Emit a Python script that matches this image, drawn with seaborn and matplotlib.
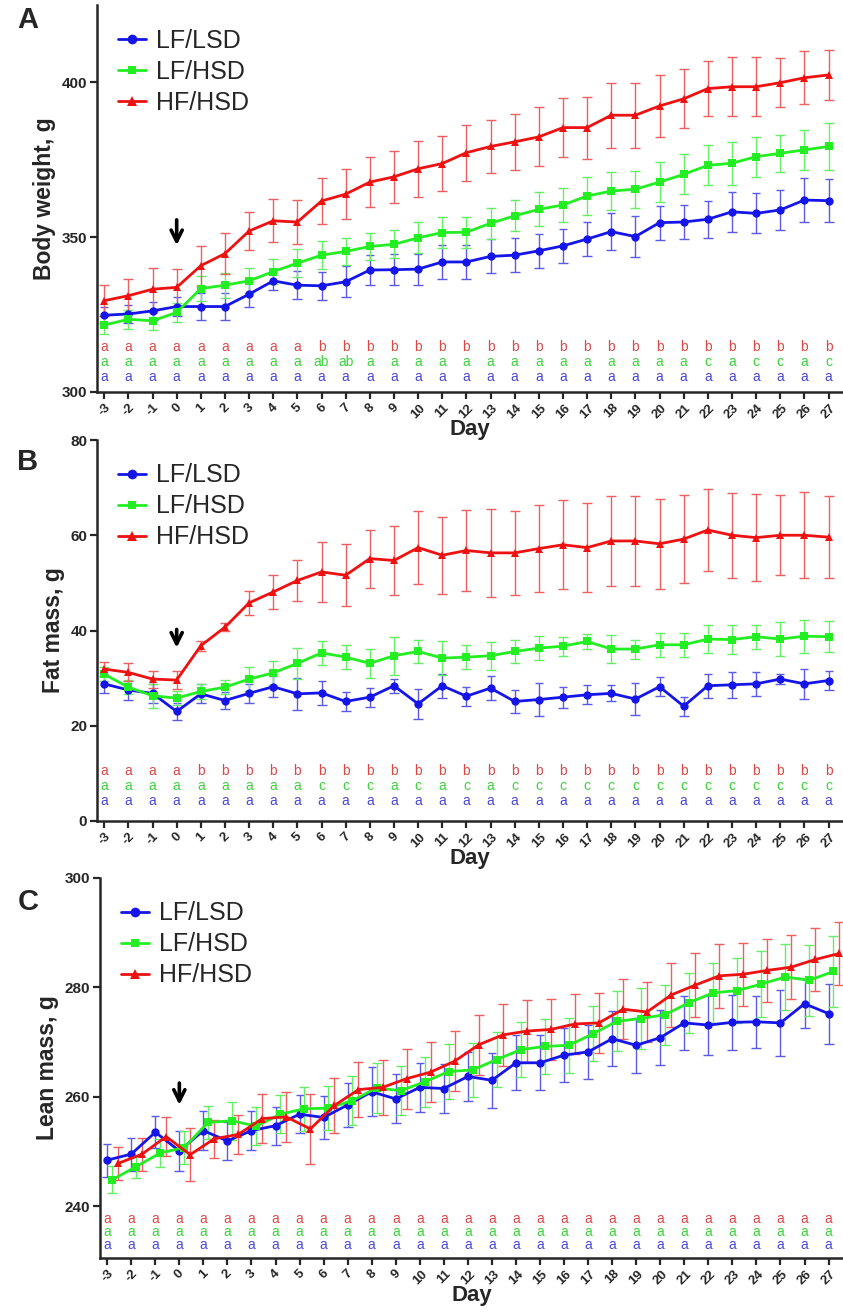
import numpy as np
import pandas as pd
import matplotlib
matplotlib.use("Agg")
import matplotlib.pyplot as plt
import matplotlib.transforms as mtransforms
import seaborn as sns

# -----------------------------
# Data
# -----------------------------
days = list(range(-3, 28))
groups = ["LF/LSD", "LF/HSD", "HF/HSD"]

# Panel A: body weight, g
bw_lsd = [324.8, 325.2, 326.2, 327.6, 327.6, 327.6, 331.6, 335.9, 334.5, 334.3, 335.6,
          339.4, 339.5, 339.7, 342.0, 342.0, 343.8, 344.2, 345.6, 347.2, 349.4, 351.8,
          350.2, 354.7, 354.9, 355.8, 358.2, 357.7, 358.8, 362.0, 361.8]
bw_lsd_err = [2.5, 3, 3, 3, 4.5, 4.5, 4, 3, 4.5, 4.5, 5, 5, 5, 5, 5.5, 5.5,
              5.5, 5.5, 5.5, 5.5, 5.5, 6, 6.5, 5.5, 5.5, 6, 6.5, 6.5, 6.5, 7, 7]
bw_lhsd = [321.6, 323.5, 323.0, 325.7, 333.4, 334.5, 335.9, 338.9, 341.6, 344.2, 345.4,
           347.0, 347.7, 349.8, 351.5, 351.6, 354.5, 356.9, 359.0, 360.4, 363.3, 364.9,
           365.5, 367.8, 370.3, 373.2, 373.9, 376.0, 377.1, 378.2, 379.3]
bw_lhsd_err = [3, 3, 3, 3, 4, 4, 4, 4, 4.5, 4.5, 4.5, 4.5, 4.5, 5, 5, 5,
               5, 5, 5.5, 5.5, 6, 6, 6, 6.5, 6.5, 6.5, 7, 6.5, 6, 6.5, 7.5]
bw_hhsd = [329.5, 331.1, 333.2, 333.8, 340.8, 344.7, 352.0, 355.3, 354.9, 361.7, 363.9,
           367.8, 369.5, 372.1, 373.8, 377.3, 379.3, 380.8, 382.4, 385.4, 385.4, 389.4,
           389.4, 392.4, 394.7, 398.0, 398.6, 398.6, 399.9, 401.5, 402.4]
bw_hhsd_err = [5, 5.5, 7, 6, 6.5, 6.5, 6, 7, 7, 7.5, 8, 8, 8.5, 9, 9, 9,
               8.5, 9, 9.5, 9.5, 10, 10.5, 10.5, 10, 9.5, 9, 9.5, 9.5, 8, 8.5, 8]

# Panel B: fat mass, g
fm_lsd = [28.8, 27.5, 26.8, 23.0, 26.7, 25.3, 26.8, 28.2, 26.7, 26.9, 25.1, 26.0, 28.4,
          24.6, 28.4, 26.2, 27.9, 25.1, 25.5, 26.0, 26.5, 26.8, 25.6, 28.2, 24.1, 28.4,
          28.6, 28.8, 29.8, 28.8, 29.5]
fm_lsd_err = [2, 2, 2, 1.8, 2, 1.8, 2, 2.2, 3.3, 2.5, 2, 2, 1.5, 3.1, 2.5, 2, 2.5, 2.5,
              3.4, 2.2, 2, 1.7, 3.4, 2, 2, 2.5, 2.7, 2.5, 1, 3.2, 2]
fm_lhsd = [30.8, 28.1, 26.3, 25.8, 27.2, 28.1, 29.8, 31.1, 33.1, 35.3, 34.4, 33.1, 34.7,
           35.6, 34.2, 34.4, 34.7, 35.6, 36.3, 36.7, 37.7, 36.1, 36.1, 37.0, 37.0, 38.2,
           38.1, 38.7, 38.2, 38.8, 38.7]
fm_lhsd_err = [1.5, 1.5, 2.5, 1.5, 1.5, 1.5, 2.5, 2.5, 3.2, 2.5, 2.5, 3, 4, 2.5, 3.5, 2.5,
               2.9, 2.5, 2.5, 2, 1.5, 3, 2, 2.5, 2.5, 3, 3, 2.5, 3.5, 3.5, 3.2]
fm_hhsd = [31.9, 31.2, 29.8, 29.6, 36.8, 40.7, 45.8, 48.1, 50.5, 52.3, 51.6, 55.1, 54.7,
           57.4, 55.8, 56.8, 56.3, 56.3, 57.2, 58.0, 57.4, 58.8, 58.8, 58.2, 59.2, 61.1,
           60.0, 59.5, 60.0, 60.0, 59.6]
fm_hhsd_err = [1.5, 1.9, 1.8, 1.9, 1.1, 0.8, 2.5, 3.5, 4.4, 6.3, 6.5, 6.1, 7.3, 7.7, 8.1,
               8.6, 9.2, 8.8, 9.2, 9.3, 9.3, 9.4, 9.4, 9.5, 9.2, 8.7, 8.9, 9.2, 8.4, 9.0, 8.6]

# Panel C: lean mass, g
lm_lsd = [248.4, 249.5, 253.5, 250.1, 253.8, 251.9, 253.8, 254.7, 256.8, 256.2, 258.5,
          260.9, 259.6, 261.7, 261.5, 263.7, 263.0, 266.2, 266.2, 267.6, 268.2, 270.6,
          269.4, 270.8, 273.5, 273.1, 273.6, 273.7, 273.5, 277.0, 275.2]
lm_lsd_err = [3, 3, 2.9, 3.7, 3.5, 3.5, 3.5, 3.5, 3.5, 4, 4, 4.5, 4.5, 4.5, 4.5, 4.5,
              5, 5, 5, 5, 5, 5, 5, 5, 5, 5.5, 5, 4.8, 6, 4.5, 5.5]
lm_lhsd = [244.8, 247.2, 249.7, 250.7, 255.3, 255.6, 254.6, 256.8, 257.8, 257.9, 259.3,
           261.6, 261.1, 262.7, 264.6, 264.9, 266.8, 268.6, 269.2, 269.4, 271.5, 273.8,
           274.3, 275.0, 277.2, 279.0, 279.4, 280.6, 281.9, 281.3, 282.9]
lm_lhsd_err = [2.5, 2, 2.5, 3, 3, 3.5, 3.5, 3.5, 4, 4, 4.5, 4.5, 4.5, 4.5, 5, 5,
               5, 5, 5, 5, 5, 5.5, 5.5, 5.5, 5.5, 5.5, 6, 6, 6, 6.5, 6.5]
lm_hhsd = [247.8, 249.5, 252.7, 249.4, 252.3, 253.1, 256.0, 256.3, 254.1, 258.4, 261.3,
           261.7, 263.3, 264.5, 266.5, 269.5, 271.3, 272.0, 272.3, 273.3, 273.5, 276.0,
           275.5, 278.6, 280.4, 282.1, 282.4, 283.1, 283.7, 285.1, 286.2]
lm_hhsd_err = [3, 3, 3.5, 4.9, 3.5, 3.5, 4.5, 4.5, 6.4, 5, 5, 5, 5.5, 5.5, 5.5, 5.5,
               5.7, 5.7, 5.5, 5.5, 5.5, 5.5, 5.5, 5.8, 5.8, 5.8, 5.8, 5.8, 5.8, 5.8, 5.8]

# Significance letters per day (rows: HF/HSD, LF/HSD, LF/LSD)
A_red = ["a"] * 9 + ["b"] * 22
A_green = ["a"] * 9 + ["ab", "ab"] + ["a"] * 14 + ["c", "a", "c", "c", "a", "c"]
A_blue = ["a"] * 31
B_red = ["a"] * 4 + ["b"] * 27
B_green = ["a"] * 9 + ["c", "c", "c", "a", "c", "a", "c", "a"] + ["c"] * 14
B_blue = ["a"] * 31
C_red = ["a"] * 31
C_green = ["a"] * 31
C_blue = ["a"] * 31

# -----------------------------
# Style
# -----------------------------
sns.set_style("ticks")
plt.rcParams["font.family"] = ["Liberation Sans", "DejaVu Sans"]
plt.rcParams["font.weight"] = "bold"

line_colors = {"LF/LSD": "#1515e8", "LF/HSD": "#22ee22", "HF/HSD": "#ee1111"}
err_colors = {"LF/LSD": "#5a5ae6", "LF/HSD": "#66ee66", "HF/HSD": "#ee6060"}
letter_colors = ["#e04848", "#3cd23c", "#4848dc"]
markers = {"LF/LSD": "o", "LF/HSD": "s", "HF/HSD": "^"}
msizes = {"LF/LSD": 7, "LF/HSD": 6, "HF/HSD": 7}

W, H = 843, 1314
fig = plt.figure(figsize=(W / 100, H / 100), dpi=100)


def axes_box(top_px, bottom_px, left_px=97, right_px=843):
    return [left_px / W, 1 - bottom_px / H, (right_px - left_px) / W, (bottom_px - top_px) / H]


def draw_panel(ax, means, errs, letters, ylim, yticks, ylabel, letter_y, arrow, offsets=None):
    offsets = offsets or {g: 0.0 for g in groups}
    rows = []
    for g, m in zip(groups, means):
        for d, v in zip(days, m):
            rows.append({"x": d + offsets[g], "value": v, "group": g})
    df = pd.DataFrame(rows)

    for g, m, e in zip(groups, means, errs):
        xs = np.array(days) + offsets[g]
        ax.errorbar(xs, m, yerr=e, fmt="none", ecolor=err_colors[g], elinewidth=1.0,
                    capsize=3.6, capthick=1.0, zorder=2)

    sns.lineplot(data=df, x="x", y="value", hue="group", style="group",
                 hue_order=groups, style_order=groups, palette=line_colors,
                 markers=markers, dashes=False, linewidth=2.0, markeredgewidth=0,
                 ax=ax, zorder=3, legend=True)
    for line, g in zip(ax.get_lines()[:3], groups):
        line.set_markersize(msizes[g])

    handles, labels = ax.get_legend_handles_labels()
    for h in handles:
        h.set_markersize(msizes.get(h.get_label(), 7))
        h.set_linewidth(2.0)
    ax.legend(handles, labels, loc="upper left", bbox_to_anchor=(0.015, 0.965),
              frameon=False, prop={"size": 18, "weight": "normal"}, handlelength=1.1,
              handletextpad=0.4, labelspacing=0.28, borderaxespad=0.0)

    # letters sit in thin rows just above the x axis
    trans = mtransforms.blended_transform_factory(ax.transData, ax.transAxes)
    for row, fy, col in zip(letters, letter_y, letter_colors):
        for d, t in zip(days, row):
            ax.text(d, fy, t, transform=trans, ha="center", va="center",
                    color=col, fontsize=10, fontweight="normal")

    ax.annotate("", xy=(0, arrow[1]), xytext=(0, arrow[0]),
                arrowprops=dict(arrowstyle="->", lw=2.6, color="black", mutation_scale=20))

    ax.set_xlim(-3.3, 27.6)
    ax.set_ylim(*ylim)
    ax.set_yticks(yticks)
    ax.set_yticklabels([str(t) for t in yticks], fontsize=11, fontweight="bold")
    ax.set_xticks(days)
    ax.set_xticklabels([str(d) for d in days], rotation=45, fontsize=9.5, fontweight="bold")
    ax.set_xlabel("Day", fontsize=16, fontweight="bold", labelpad=-1)
    ax.set_ylabel(ylabel, fontsize=16.5, fontweight="bold", labelpad=4)
    sns.despine(ax=ax)
    for s in ["left", "bottom"]:
        ax.spines[s].set_linewidth(1.8)
    ax.tick_params(direction="out", length=5, width=1.6, pad=2)


axA = fig.add_axes(axes_box(5, 392))
draw_panel(axA, [bw_lsd, bw_lhsd, bw_hhsd], [bw_lsd_err, bw_lhsd_err, bw_hhsd_err],
           [A_red, A_green, A_blue], (300, 425), [300, 350, 400], "Body weight, g",
           [0.116, 0.078, 0.039], (356.5, 346.5))

axB = fig.add_axes(axes_box(440, 821))
draw_panel(axB, [fm_lsd, fm_lhsd, fm_hhsd], [fm_lsd_err, fm_lhsd_err, fm_hhsd_err],
           [B_red, B_green, B_blue], (0, 80), [0, 20, 40, 60, 80], "Fat mass, g",
           [0.131, 0.092, 0.052], (40.8, 35.8))

axC = fig.add_axes(axes_box(878, 1258, left_px=100))
draw_panel(axC, [lm_lsd, lm_lhsd, lm_hhsd], [lm_lsd_err, lm_lhsd_err, lm_hhsd_err],
           [C_red, C_green, C_blue], (230.5, 300), [240, 260, 280, 300], "Lean mass, g",
           [0.103, 0.068, 0.034], (263.0, 258.0),
           offsets={"LF/LSD": 0.0, "LF/HSD": 0.2, "HF/HSD": 0.45})

for lab, ypx in zip(["A", "B", "C"], [20, 462, 902]):
    fig.text(28 / W, 1 - ypx / H, lab, fontsize=21, fontweight="bold", ha="center", va="center")

fig.savefig("out.png", dpi=100)
